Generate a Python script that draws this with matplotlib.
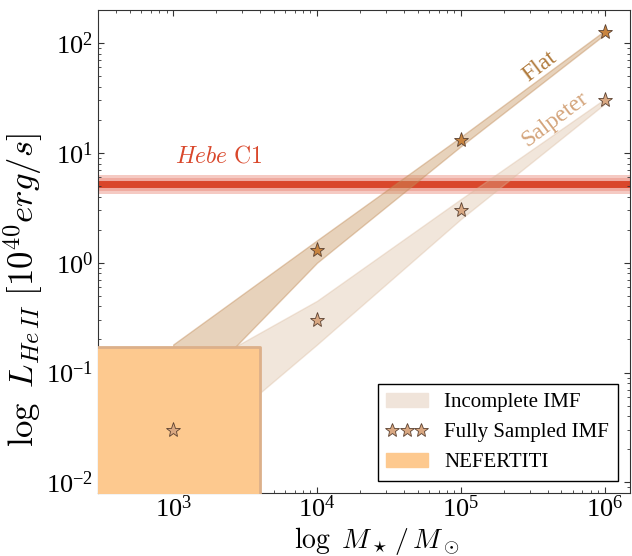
import matplotlib
matplotlib.use('Agg')
import matplotlib.pyplot as plt
from matplotlib.patches import Patch
from matplotlib.lines import Line2D

plt.rcParams['font.family'] = ['Liberation Serif', 'DejaVu Serif']
plt.rcParams['mathtext.fontset'] = 'cm'

# stellar masses of the models
mass = [1e3, 1e4, 1e5, 1e6]

# fully sampled IMF
flat_star = [1.3, 13.0, 125.0]
flat_mass = [1e4, 1e5, 1e6]
salp_star = [0.03, 0.3, 3.0, 30.0]

# incomplete IMF ranges
flat_lo = [0.045, 1.0, 11.5, 120.0]
flat_hi = [0.18, 1.6, 14.0, 130.0]
salp_lo = [0.014, 0.18, 2.5, 28.0]
salp_hi = [0.083, 0.45, 3.8, 31.0]

# Hebe C1
hebe = 5.2
hebe_in = [4.5, 5.85]
hebe_out = [4.25, 6.3]

# NEFERTITI limits
nef_x = [100, 4000]
nef_y = 0.17

fig = plt.figure(figsize=(6.32, 5.56), dpi=100)
ax = fig.add_axes([0.155, 0.1133, 0.842, 0.8687])

ax.fill_between(mass, salp_lo, salp_hi, facecolor='#d9b89a', edgecolor='#d9b89a',
                alpha=0.35, lw=1, zorder=2)
ax.fill_between(mass, flat_lo, flat_hi, facecolor='#c8955f', edgecolor='#c08a55',
                alpha=0.42, lw=1, zorder=3)

ax.axhspan(hebe_out[0], hebe_out[1], color='#e0523a', alpha=0.3, lw=0, zorder=1)
ax.axhspan(hebe_in[0], hebe_in[1], color='#e0523a', alpha=0.25, lw=0, zorder=1)
ax.axhline(hebe, color='#d9472b', lw=5, zorder=1)
ax.text(1030, 9.2, r'$Hebe\ \mathrm{C1}$', color='#d9472b', fontsize=17,
        ha='left', va='center')

ax.fill_between(nef_x, 1e-3, nef_y, facecolor='#fdc98f', edgecolor='#dcb08a',
                lw=2, zorder=4)

ax.plot(flat_mass, flat_star, ls='none', marker='*', ms=11, mfc='#c8843f',
        mec='#5a4030', mew=0.6, zorder=6)
ax.plot(mass, salp_star, ls='none', marker='*', ms=11, mfc='#d9a882',
        mec='#5a4030', mew=0.6, zorder=6)

ax.text(3.54e5, 60.5, 'Flat', color='#b07a3c', fontsize=17, rotation=37,
        ha='center', va='center')
ax.text(4.5e5, 20.4, 'Salpeter', color='#d4a57c', fontsize=17, rotation=37,
        ha='center', va='center')

ax.set_xscale('log')
ax.set_yscale('log')
ax.set_xlim(300, 1.5e6)
ax.set_ylim(0.008, 200)

ax.set_xlabel(r'$\log\ M_\star\,/\,M_\odot$', fontsize=20)
ax.set_ylabel(r'$\log\ L_{He\,II}\ [10^{40}erg/s]$', fontsize=25)
ax.xaxis.set_label_coords(0.523, -0.066)
ax.yaxis.set_label_coords(-0.10, 0.42)
ax.tick_params(which='both', direction='in', top=True, right=True,
               labelsize=19, colors='#333333', labelcolor='black')
ax.tick_params(axis='x', pad=2)
ax.tick_params(which='major', length=4)
ax.tick_params(which='minor', length=2)
for s in ax.spines.values():
    s.set_color('#333333')

handles = [
    Patch(facecolor='#f0e4da', edgecolor='#f0e4da'),
    Line2D([0], [0], ls='none', marker='*', ms=10, mfc='#d9a882', mec='#5a4030', mew=0.6),
    Patch(facecolor='#fdc98f', edgecolor='#fdc98f'),
]
leg = ax.legend(handles, ['Incomplete IMF', 'Fully Sampled IMF', 'NEFERTITI'],
                loc='lower right', fontsize=15, numpoints=3, fancybox=False,
                framealpha=1, edgecolor='black', handlelength=2.0,
                borderaxespad=0.6)
leg.get_frame().set_linewidth(1.0)

fig.savefig('out.png', dpi=100)
